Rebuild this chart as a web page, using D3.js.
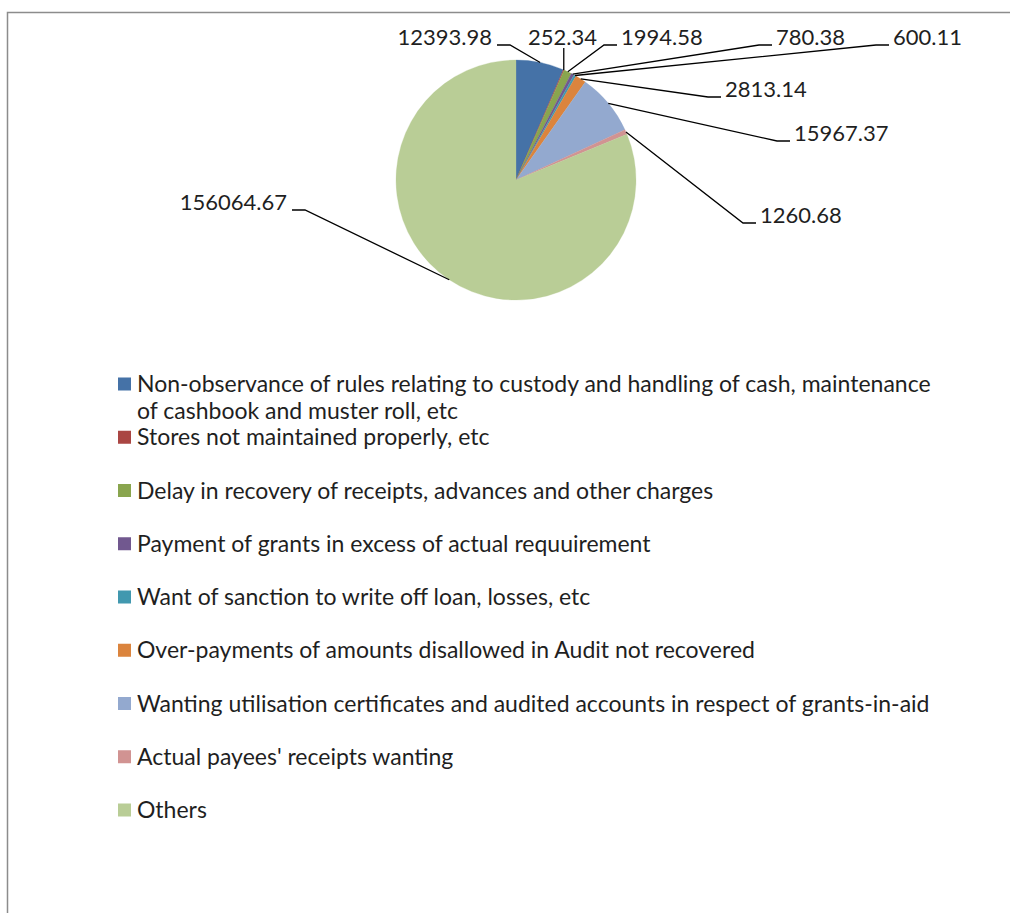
<!DOCTYPE html>
<html>
<head>
<meta charset="utf-8">
<script src="https://cdn.jsdelivr.net/npm/d3@7"></script>
<style>
  body { margin: 0; background: #fff; }
  text { font-family: Lato, "Open Sans", sans-serif; fill: #1f1f1f; }
</style>
</head>
<body>
<div id="chartarea"></div>
<script>
// categories and values
const categories = [
    ['Non-observance of rules relating to custody and handling of cash, maintenance', 'of cashbook and muster roll, etc'],
    ['Stores not maintained properly, etc'],
    ['Delay in recovery of receipts, advances and other charges'],
    ['Payment of grants in excess of actual requuirement'],
    ['Want of sanction to write off loan, losses, etc'],
    ['Over-payments of amounts disallowed in Audit not recovered'],
    ['Wanting utilisation certificates and audited accounts in respect of grants-in-aid'],
    ["Actual payees' receipts wanting"],
    ['Others']
];
const values = [12393.98, 252.34, 1994.58, 780.38, 600.11, 2813.14, 15967.37, 1260.68, 156064.67];
const valueLabels = ['12393.98', '252.34', '1994.58', '780.38', '600.11', '2813.14', '15967.37', '1260.68', '156064.67'];
const colors = ['#4572A7', '#AA4643', '#89A54E', '#71588F', '#4198AF', '#DB843D', '#93A9CF', '#D19392', '#B9CD96'];

// where the data labels sit (x, centre y, which side the leader line leaves from)
const labelLayout = [
    [492, 37, 'end'],
    [528, 37, 'above'],
    [621, 37, 'start'],
    [776, 37, 'start'],
    [893, 37, 'start'],
    [725, 89, 'start'],
    [794, 133, 'start'],
    [760, 215, 'start'],
    [287, 202, 'end']
];

const width = 1010;
const height = 913;
const cx = 516, cy = 180, radius = 120;

const svg = d3.select('#chartarea')
    .append('svg')
        .attr('width', width)
        .attr('height', height);

// chart frame
svg.append('rect')
    .attr('x', 7.5)
    .attr('y', 12.5)
    .attr('width', 1100)
    .attr('height', 1000)
    .attr('fill', 'none')
    .attr('stroke', '#8c8c8c')
    .attr('stroke-width', 1.5);

const pie = d3.pie().sort(null).value(d => d);
const arcs = pie(values);

const arc = d3.arc().innerRadius(0).outerRadius(radius);
const edge = d3.arc().innerRadius(radius).outerRadius(radius);

const g = svg.append('g')
    .attr('transform', `translate(${cx}, ${cy})`);

g.selectAll('path')
    .data(arcs)
    .enter()
    .append('path')
    .attr('d', arc)
    .attr('fill', (d, i) => colors[i])
    .attr('stroke', (d, i) => colors[i])
    .attr('stroke-width', 0.3);

// leader lines
const leader = svg.append('g');
arcs.forEach((d, i) => {
    const [lx, ly, side] = labelLayout[i];
    const [ax, ay] = edge.centroid(d);
    const px = ax + cx, py = ay + cy;
    let pts;
    if (side === 'end') {
        pts = [[lx + 5, ly + 8], [lx + 18, ly + 8], [px, py]];
    } else if (side === 'start') {
        pts = [[lx - 4, ly + 8], [lx - 17, ly + 8], [px, py]];
    } else {
        pts = [[px, ly + 11], [px, py]];
    }
    leader.append('path')
        .attr('d', d3.line()(pts))
        .attr('fill', 'none')
        .attr('stroke', '#000')
        .attr('stroke-width', 1.3);
});

// data labels
svg.append('g').selectAll('text')
    .data(valueLabels)
    .enter()
    .append('text')
    .attr('x', (d, i) => labelLayout[i][0])
    .attr('y', (d, i) => labelLayout[i][1])
    .attr('dy', '0.35em')
    .attr('text-anchor', (d, i) => labelLayout[i][2] === 'end' ? 'end' : 'start')
    .attr('font-size', '22px')
    .text(d => d);

// legend
const legendY = d3.scalePoint()
    .domain(d3.range(categories.length))
    .range([384, 810]);

const legend = svg.append('g');
const items = legend.selectAll('g')
    .data(categories)
    .enter()
    .append('g')
    .attr('transform', (d, i) => `translate(118, ${legendY(i)})`);

items.append('rect')
    .attr('x', 0)
    .attr('y', -6.5)
    .attr('width', 13)
    .attr('height', 13)
    .attr('fill', (d, i) => colors[i]);

items.append('text')
    .attr('font-size', '23px')
    .selectAll('tspan')
    .data(d => d)
    .enter()
    .append('tspan')
    .attr('x', 19)
    .attr('y', (d, j) => j * 27)
    .attr('dy', '0.35em')
    .text(d => d);
</script>
</body>
</html>
